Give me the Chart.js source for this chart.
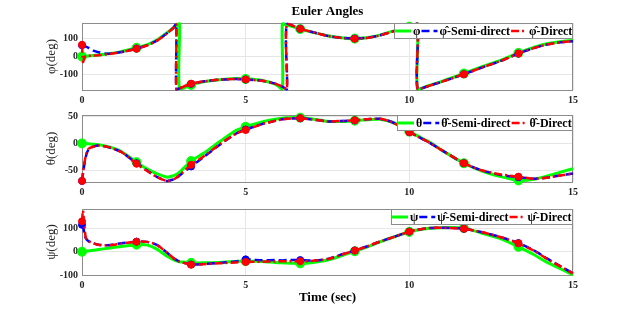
<!DOCTYPE html>
<html><head><meta charset="utf-8">
<script src="https://cdn.jsdelivr.net/npm/chart.js@4.4.1/dist/chart.umd.min.js"></script>
<style>
html,body{margin:0;padding:0;background:#fff;}
#wrap{position:relative;width:634px;height:310px;}
#wrap canvas{position:absolute;left:0;top:0;}
</style></head><body>
<div id="wrap">
<canvas id="c1" width="634" height="310"></canvas>
<canvas id="c2" width="634" height="310"></canvas>
<canvas id="c3" width="634" height="310"></canvas>
</div>
<script>
// time samples (s); repeated times mark angle wrap-around jumps
const time = [0, 0.03, 0.07, 0.12, 0.2, 0.35, 0.5, 0.8, 1.2, 1.6667,
  2.0, 2.3, 2.6, 2.8, 2.88, 2.88, 2.98, 2.98, 3.3333, 3.7,
  4.2, 4.7, 5.0, 5.5, 5.9, 6.12, 6.12, 6.26, 6.26, 6.6667,
  7.0, 7.5, 8.0, 8.3333, 8.7, 9.1, 9.5, 10.0, 10.25, 10.25,
  10.6, 11.0, 11.6667, 12.2, 12.8, 13.3333, 13.8, 14.2, 14.6, 15.0];

const phiTrue = [0, 0.5, 1, 2, 3, 5, 8, 15, 27, 48,
  66, 92, 132, 160, 170, 170, 180, -180, -157, -140,
  -128, -122, -124, -132, -152, -178, 180, 174, 174, 152,
  136, 115, 102, 99, 104, 118, 140, 165, 180, -180,
  -160, -137, -94, -58, -20, 20, 50, 70, 82, 88];
const phiSemi = [62, 60, 58, 55, 48, 32, 24, 15, 25, 44,
  63, 89, 129, 160, 180, -180, -176, -176, -151, -138,
  -128, -124, -127, -134, -150, -166, -166, -180, 180, 153,
  137, 114, 102, 99, 103, 117, 139, 163, 180, -180,
  -162, -139, -98, -62, -24, 16, 46, 66, 78, 84];
const phiDirect = [65, -30, -8, 3, 4, 5, 7, 13, 24, 43,
  62, 88, 128, 160, 180, -180, -176, -176, -150, -138,
  -128, -124, -127, -134, -150, -166, -166, -180, 180, 153,
  137, 114, 101, 98, 102, 116, 138, 163, 180, -180,
  -162, -139, -98, -62, -24, 16, 46, 66, 78, 84];

const thetaTrue = [0, 0, -0.2, -0.4, -0.8, -1.5, -2.5, -6, -15, -35,
  -48, -57, -63, -60, -58, -58, -54, -54, -33, -19,
  3, 24, 31, 40, 45, 47, 47, 48, 48, 48,
  46, 41, 41, 42.5, 44, 45, 39, 22, 14, 14,
  3, -13, -37, -51, -62, -69, -67, -61, -54, -47];
const thetaSemi = [-70, -56, -40, -24, -11, -6, -4, -7, -16, -37,
  -51, -63, -70, -67, -65, -65, -60, -60, -43, -26,
  -3, 18, 26, 36, 42, 45, 45, 46, 46, 47,
  45, 41, 42, 43, 45, 46, 39, 21, 13, 13,
  2, -13, -37, -50, -59, -63, -66, -64, -60, -56];
const thetaDirect = [-70, -55, -38, -22, -10, -6, -4, -7, -16, -38,
  -52, -63, -70, -67, -64, -64, -59, -59, -40, -25,
  -2, 18, 25, 36, 42, 45, 45, 46, 46, 47,
  45, 41, 42, 43, 45, 46, 39, 21, 13, 13,
  2, -13, -37, -50, -58, -62, -66, -64, -60, -56];

const psiTrue = [0, 0.5, 1, 2, 3, 6, 9, 15, 22, 30,
  28, 10, -20, -35, -39, -39, -43, -43, -48, -48,
  -46, -42, -40, -42, -46, -48, -48, -49, -49, -50,
  -47, -36, -14, 2, 20, 42, 62, 85, 93, 93,
  100, 103, 101, 80, 55, 21, -12, -45, -72, -100];
const psiSemi = [115, 112, 80, 57, 45, 36, 30, 28, 36, 43,
  42, 28, -5, -28, -35, -35, -43, -43, -55, -53,
  -48, -42, -33, -37, -36, -38, -38, -35, -35, -36,
  -38, -31, -9, 5, 22, 43, 62, 86, 94, 94,
  101, 103, 98, 84, 62, 37, 6, -29, -61, -93];
const psiDirect = [130, 176, 115, 58, 45, 36, 30, 27, 35, 43,
  42, 28, -5, -28, -35, -35, -43, -43, -56, -54,
  -50, -46, -44, -43, -42, -41, -41, -41, -41, -41,
  -40, -32, -10, 5, 22, 43, 62, 86, 94, 94,
  101, 103, 98, 84, 62, 36, 5, -30, -62, -93];

const timeTicks = [0, 5, 10, 15];
const phiTicks = [-100, 0, 100];
const thetaTicks = [-50, 0, 50];
const psiTicks = [-100, 0, 100];

const phiLabels = ['\u03C6', '\u03C6\u0302-Semi-direct', '\u03C6\u0302-Direct'];
const thetaLabels = ['\u03B8', '\u03B8\u0302-Semi-direct', '\u03B8\u0302-Direct'];
const psiLabels = ['\u03C8', '\u03C8\u0302-Semi-direct', '\u03C8\u0302-Direct'];

const FONT = '"Liberation Serif", "Times New Roman", serif';
const LEFT = 82, RIGHT = 573, YW = 38;

function isMarker(x) {
  return x < 14 && Math.abs(x * 0.6 - Math.round(x * 0.6)) < 0.001;
}
function pts(vals) { return vals.map((v, i) => ({x: time[i], y: v})); }

const framePlugin = {
  id: 'frame',
  beforeDatasetsDraw(chart) {
    const {ctx, chartArea: a} = chart;
    ctx.save();
    ctx.strokeStyle = '#8c8c8c';
    ctx.lineWidth = 1;
    ctx.strokeRect(Math.round(a.left) + 0.5, Math.round(a.top) + 0.5,
      Math.round(a.right - a.left) - 1, Math.round(a.bottom - a.top));
    ctx.restore();
  }
};

const legendPlugin = {
  id: 'insideLegend',
  afterDatasetsDraw(chart) {
    const {ctx, chartArea} = chart;
    const ds = chart.data.datasets;
    ctx.save();
    ctx.font = 'bold 12px ' + FONT;
    const lineLen = 16, gapT = 2, gapE = 1, padL = 1, h = 16;
    const widths = ds.map(d => ctx.measureText(d.label).width);
    let total = padL;
    ds.forEach((d, i) => { total += lineLen + gapT + widths[i] + gapE; });
    const right = Math.round(chartArea.right);
    const left = Math.round(right - total);
    const top = Math.round(chartArea.top);
    ctx.fillStyle = '#fff';
    ctx.fillRect(left, top, right - left, h);
    ctx.strokeStyle = '#8c8c8c';
    ctx.lineWidth = 1;
    ctx.strokeRect(left + 0.5, top + 0.5, right - left - 1, h - 1);
    let x = left + padL;
    const y = top + h / 2;
    ds.forEach((d, i) => {
      ctx.beginPath();
      ctx.setLineDash(d.borderDash || []);
      ctx.strokeStyle = d.borderColor;
      ctx.lineWidth = d.borderWidth;
      ctx.moveTo(x, y);
      ctx.lineTo(x + lineLen, y);
      ctx.stroke();
      ctx.setLineDash([]);
      x += lineLen + gapT;
      ctx.fillStyle = '#000';
      ctx.textBaseline = 'middle';
      ctx.textAlign = 'left';
      ctx.fillText(d.label, x, y + 1);
      x += widths[i] + gapE;
    });
    ctx.restore();
  }
};

function makeDatasets(labels, g, b, r) {
  const base = {fill: false, tension: 0.25, clip: false,
    pointRadius: 0, pointHoverRadius: 0, pointBorderWidth: 1};
  return [
    Object.assign({}, base, {label: labels[0], data: pts(g), borderColor: '#00ff00',
      backgroundColor: '#00ff00', pointBackgroundColor: '#00ff00', pointBorderColor: '#00ff00',
      borderWidth: 3, order: 3, pointRadius: c => isMarker(c.raw.x) ? 4.5 : 0}),
    Object.assign({}, base, {label: labels[1], data: pts(b), borderColor: '#0000ff',
      backgroundColor: '#0000ff', pointBackgroundColor: '#0000ff', pointBorderColor: '#0000ff',
      borderWidth: 2.5, borderDash: [8, 4], order: 2, pointRadius: c => isMarker(c.raw.x) ? 3.5 : 0}),
    Object.assign({}, base, {label: labels[2], data: pts(r), borderColor: '#ff0000',
      backgroundColor: '#ff0000', pointBackgroundColor: '#ff0000', pointBorderColor: '#ff0000',
      borderWidth: 2.5, borderDash: [8, 3, 2, 3], order: 1, pointRadius: c => isMarker(c.raw.x) ? 3.5 : 0})
  ];
}

function makeChart(id, datasets, cfg) {
  const tickFont = {family: FONT, size: 10, weight: 'bold'};
  return new Chart(document.getElementById(id), {
    type: 'line',
    data: {datasets},
    plugins: [framePlugin, legendPlugin],
    options: {
      responsive: false, animation: false, devicePixelRatio: 1,
      events: [],
      layout: {padding: {left: LEFT - YW, right: 634 - RIGHT, top: cfg.padTop, bottom: cfg.padBottom}},
      plugins: {
        legend: {display: false},
        tooltip: {enabled: false},
        title: cfg.title ? {display: true, text: cfg.title, fullSize: false, color: '#000',
          font: {family: FONT, size: 13, weight: 'bold'}, padding: {top: 4, bottom: 3.4}} : {display: false}
      },
      scales: {
        x: {
          type: 'linear', min: 0, max: 15,
          afterBuildTicks: s => { s.ticks = timeTicks.map(v => ({value: v})); },
          afterFit: s => { s.height = cfg.xH; },
          ticks: {font: tickFont, color: '#262626', padding: 4, maxRotation: 0, autoSkip: false},
          grid: {color: '#e6e6e6', drawTicks: false},
          border: {display: false},
          title: cfg.xTitle ? {display: true, text: cfg.xTitle, color: '#000',
            font: {family: FONT, size: 13, weight: 'bold'}, padding: {top: 0, bottom: 0}} : {display: false}
        },
        y: {
          type: 'linear', min: cfg.yMin, max: cfg.yMax,
          afterBuildTicks: s => { s.ticks = cfg.yTicks.map(v => ({value: v})); },
          afterFit: s => { s.width = YW; },
          ticks: {font: tickFont, color: '#262626', padding: 4},
          grid: {color: '#e6e6e6', drawTicks: false},
          border: {display: false},
          title: {display: true, text: cfg.yTitle, color: '#262626',
            font: {family: FONT, size: 13, weight: 'normal'}, padding: {top: 0, bottom: 0}}
        }
      }
    }
  });
}

makeChart('c1', makeDatasets(phiLabels, phiTrue, phiSemi, phiDirect),
  {title: 'Euler Angles', padTop: 0, padBottom: 310 - 90 - 20, xH: 20,
   yMin: -185, yMax: 185, yTicks: phiTicks, yTitle: '\u03C6(deg)'});
makeChart('c2', makeDatasets(thetaLabels, thetaTrue, thetaSemi, thetaDirect),
  {padTop: 115, padBottom: 310 - 182 - 20, xH: 20,
   yMin: -72, yMax: 53, yTicks: thetaTicks, yTitle: '\u03B8(deg)'});
makeChart('c3', makeDatasets(psiLabels, psiTrue, psiSemi, psiDirect),
  {padTop: 209, padBottom: 5, xH: 30, xTitle: 'Time (sec)',
   yMin: -100, yMax: 183, yTicks: psiTicks, yTitle: '\u03C8(deg)'});
</script>
</body></html>
